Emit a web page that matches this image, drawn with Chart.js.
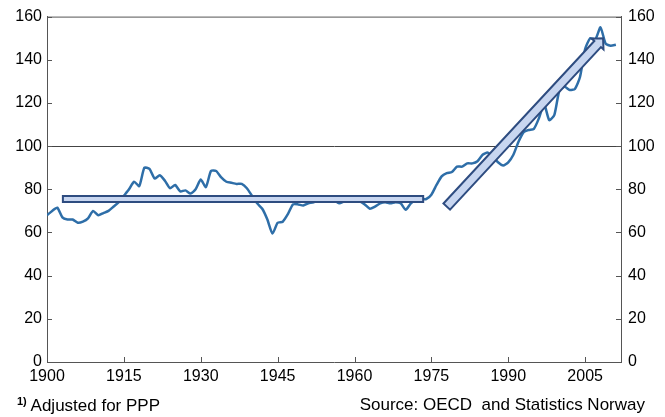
<!DOCTYPE html>
<html>
<head>
<meta charset="utf-8">
<script src="https://cdn.jsdelivr.net/npm/chart.js@4.4.0/dist/chart.umd.min.js"></script>
<style>
  body { margin: 0; background: #fff; font-family: "Liberation Sans", Arial, sans-serif; }
  #wrap { position: relative; width: 665px; height: 417px; }
  .note { position: absolute; top: 395px; font-size: 17px; color: #000; white-space: nowrap; }
  .note sup { font-size: 11px; font-weight: bold; vertical-align: 6px; }
</style>
</head>
<body>
<div id="wrap">
  <canvas id="myChart" width="665" height="417"></canvas>
  <div class="note" style="left:17px"><sup>1)</sup> Adjusted for PPP</div>
  <div class="note" style="right:20px">Source: OECD&nbsp; and Statistics Norway</div>
</div>
<script>
'use strict';

const years = [
  1900, 1901, 1902, 1903, 1904, 1905, 1906, 1907, 1908, 1909,
  1910, 1911, 1912, 1913, 1914, 1915, 1916, 1917, 1918, 1919,
  1920, 1921, 1922, 1923, 1924, 1925, 1926, 1927, 1928, 1929,
  1930, 1931, 1932, 1933, 1934, 1935, 1936, 1937, 1938, 1939,
  1940, 1941, 1942, 1943, 1944, 1945, 1946, 1947, 1948, 1949,
  1950, 1951, 1952, 1953, 1954, 1955, 1956, 1957, 1958, 1959,
  1960, 1961, 1962, 1963, 1964, 1965, 1966, 1967, 1968, 1969,
  1970, 1971, 1972, 1973, 1974, 1975, 1976, 1977, 1978, 1979,
  1980, 1981, 1982, 1983, 1984, 1985, 1986, 1987, 1988, 1989,
  1990, 1991, 1992, 1993, 1994, 1995, 1996, 1997, 1998, 1999,
  2000, 2001, 2002, 2003, 2004, 2005, 2006, 2007, 2008, 2009,
  2010, 2011
];

// GDP per capita relative to OECD (=100), adjusted for PPP
const gdpIndex = [
  68, 70, 71.5, 67, 66, 66, 64.5, 65, 66.5, 70,
  68, 69, 70, 72, 74, 77, 80, 83.5, 81.5, 90,
  89.5, 85, 86.5, 84, 80.5, 82, 79, 79.5, 78, 80,
  84.5, 81, 88.5, 88.5, 85.5, 83.5, 83, 82.5, 82.5, 80.5,
  77, 73.5, 71, 66, 59.5, 64.5, 65, 68.5, 73, 73,
  72.5, 73.5, 74, 75.5, 76, 75.5, 75, 73.5, 74.5, 75.5,
  75.5, 74.5, 73, 71, 72, 73.5, 74, 73.5, 74, 73.5,
  70.5, 73.5, 75, 75.5, 75.5, 77.5, 82, 86, 87.5, 88,
  90.5, 90.5, 92, 92, 93, 96, 97, 95, 92.5, 91,
  92.5, 96, 102, 106.5, 107.5, 108, 113, 119.5, 112, 114.5,
  126, 127.5, 126, 126.5, 132, 145, 150, 149.5, 155, 147.5,
  146.5, 147
];

const xTicks = [1900, 1915, 1930, 1945, 1960, 1975, 1990, 2005];
const yTicks = [0, 20, 40, 60, 80, 100, 120, 140, 160];

// trend markers: [year, value] end points
const flatBar = [[1903.1, 75.5], [1973.4, 75.5]];
const riseArrow = [[1978.0, 72.0], [2008.5, 150.0]];

const lineColor = 'rgb(46,110,168)';
const barFill = 'rgb(200,214,240)';
const barEdge = 'rgb(46,76,128)';
const axisColor = '#555';

const points = years.map((y, i) => ({ x: y, y: gdpIndex[i] }));

function setTicks(list) {
  return function (scale) {
    scale.ticks = list.map(v => ({ value: v }));
  };
}

const boxPlugin = {
  id: 'boxPlugin',
  afterDatasetsDraw(chart) {
    const ctx = chart.ctx;
    const a = chart.chartArea;
    const xs = chart.scales.x;
    const ys = chart.scales.y;

    ctx.save();
    // top border
    ctx.strokeStyle = axisColor;
    ctx.lineWidth = 1;
    ctx.beginPath();
    ctx.moveTo(a.left, a.top + 0.5);
    ctx.lineTo(a.right, a.top + 0.5);
    ctx.stroke();

    // inward ticks
    ctx.beginPath();
    xTicks.forEach(v => {
      const px = Math.round(xs.getPixelForValue(v)) + 0.5;
      ctx.moveTo(px, a.bottom);
      ctx.lineTo(px, a.bottom - 5);
    });
    yTicks.forEach(v => {
      const py = Math.round(ys.getPixelForValue(v)) + 0.5;
      ctx.moveTo(a.left, py);
      ctx.lineTo(a.left + 5, py);
      ctx.moveTo(a.right, py);
      ctx.lineTo(a.right - 5, py);
    });
    ctx.stroke();

    // flat bar
    const fx0 = xs.getPixelForValue(flatBar[0][0]);
    const fx1 = xs.getPixelForValue(flatBar[1][0]);
    const fy = ys.getPixelForValue(flatBar[0][1]);
    ctx.fillStyle = barFill;
    ctx.strokeStyle = barEdge;
    ctx.lineWidth = 2;
    ctx.beginPath();
    ctx.rect(fx0, fy - 3, fx1 - fx0, 6);
    ctx.fill();
    ctx.stroke();

    // rising arrow
    const p0 = [xs.getPixelForValue(riseArrow[0][0]), ys.getPixelForValue(riseArrow[0][1])];
    const p1 = [xs.getPixelForValue(riseArrow[1][0]), ys.getPixelForValue(riseArrow[1][1])];
    const dx = p1[0] - p0[0], dy = p1[1] - p0[1];
    const len = Math.sqrt(dx * dx + dy * dy);
    const ux = dx / len, uy = dy / len;
    const nx = -uy, ny = ux;
    const hw = 4.5, headLen = 8, headW = 8;
    const bx = p1[0] - ux * headLen, by = p1[1] - uy * headLen;
    ctx.beginPath();
    ctx.moveTo(p0[0] + nx * hw, p0[1] + ny * hw);
    ctx.lineTo(bx + nx * hw, by + ny * hw);
    ctx.lineTo(bx + nx * headW, by + ny * headW);
    ctx.lineTo(p1[0], p1[1]);
    ctx.lineTo(bx - nx * headW, by - ny * headW);
    ctx.lineTo(bx - nx * hw, by - ny * hw);
    ctx.lineTo(p0[0] - nx * hw, p0[1] - ny * hw);
    ctx.closePath();
    ctx.fill();
    ctx.stroke();
    ctx.restore();
  }
};

const tickFont = { family: '"Liberation Sans", Arial, sans-serif', size: 16 };

const config = {
  type: 'line',
  data: {
    datasets: [{
      data: points,
      borderColor: lineColor,
      borderWidth: 2.5,
      pointRadius: 0,
      tension: 0.2,
      fill: false
    }]
  },
  options: {
    responsive: false,
    animation: false,
    layout: { padding: { top: 16, bottom: 25, left: 0, right: 0 } },
    plugins: { legend: { display: false }, tooltip: { enabled: false } },
    scales: {
      x: {
        type: 'linear',
        min: 1900,
        max: 2012,
        afterBuildTicks: setTicks(xTicks),
        afterFit(scale) { scale.height = 30; },
        grid: { color: 'transparent', drawTicks: false },
        border: { display: true, color: axisColor, width: 1 },
        ticks: {
          color: '#000',
          font: tickFont,
          padding: 5,
          maxRotation: 0,
          autoSkip: false,
          callback: v => String(v)
        }
      },
      y: {
        position: 'left',
        min: 0,
        max: 160,
        afterBuildTicks: setTicks(yTicks),
        afterFit(scale) { scale.width = 47; },
        grid: {
          color: c => (c.tick && c.tick.value === 100 ? '#444' : 'transparent'),
          lineWidth: 1,
          drawTicks: false
        },
        border: { display: true, color: axisColor, width: 1 },
        ticks: { color: '#000', font: tickFont, padding: 5, callback: v => String(v) }
      },
      y2: {
        position: 'right',
        min: 0,
        max: 160,
        afterBuildTicks: setTicks(yTicks),
        afterFit(scale) { scale.width = 44; },
        grid: { display: true, color: 'transparent', drawTicks: false },
        border: { display: true, color: axisColor, width: 1 },
        ticks: { color: '#000', font: tickFont, padding: 7, callback: v => String(v) }
      }
    }
  },
  plugins: [boxPlugin]
};

const myChart = new Chart(document.getElementById('myChart'), config);
</script>
</body>
</html>
